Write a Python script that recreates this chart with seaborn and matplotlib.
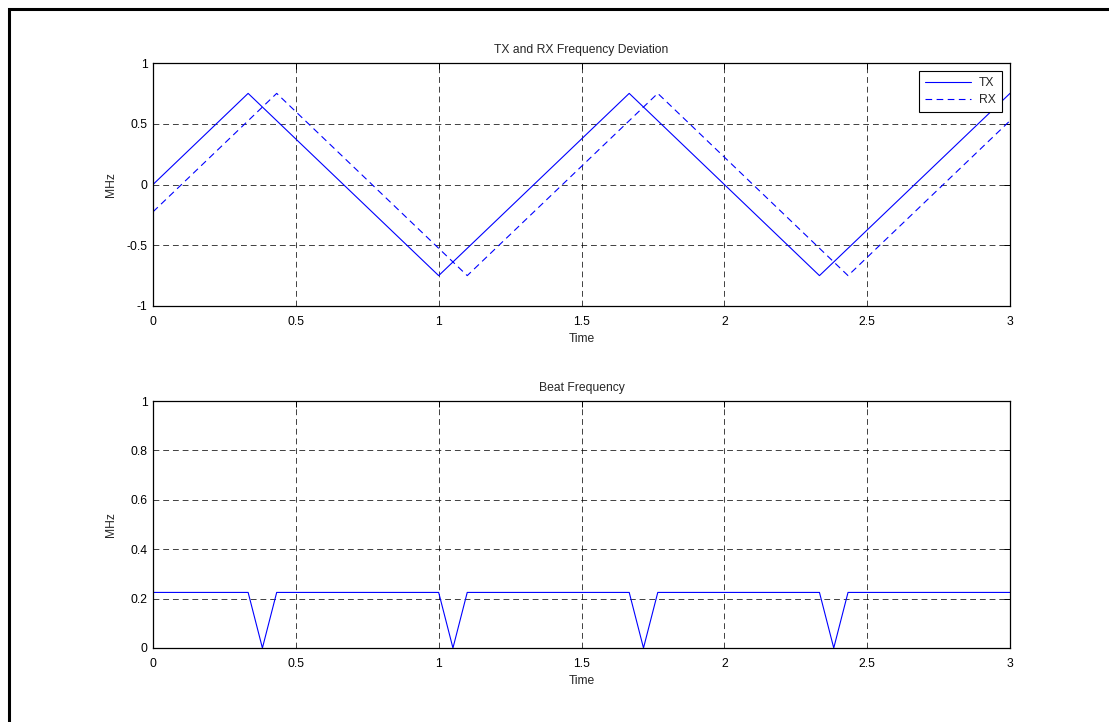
# %% TX / RX frequency deviation and beat frequency
import matplotlib
matplotlib.use('Agg')
import matplotlib.pyplot as plt
import seaborn as sns
import pandas as pd

# %% Data (vertices)
tx_time = [0, 0.333, 1.0, 1.667, 2.333, 3.0]
tx_mhz = [0, 0.75, -0.75, 0.75, -0.75, 0.75]

rx_time = [0, 0.433, 1.1, 1.767, 2.433, 3.0]
rx_mhz = [-0.225, 0.75, -0.75, 0.75, -0.75, 0.525]

beat_time = [0, 0.333, 0.383, 0.433, 1.0, 1.05, 1.1, 1.667, 1.717, 1.767,
             2.333, 2.383, 2.433, 3.0]
beat_mhz = [0.225, 0.225, 0, 0.225, 0.225, 0, 0.225, 0.225, 0, 0.225,
            0.225, 0, 0.225, 0.225]

top_yticks = [-1, -0.5, 0, 0.5, 1]
top_yticklabels = ['-1', '-0.5', '0', '0.5', '1']
bot_yticks = [0, 0.2, 0.4, 0.6, 0.8, 1]
bot_yticklabels = ['0', '0.2', '0.4', '0.6', '0.8', '1']
xticks = [0, 0.5, 1, 1.5, 2, 2.5, 3]
xticklabels = ['0', '0.5', '1', '1.5', '2', '2.5', '3']

# %% Style
sns.set_style('white')
plt.rcParams['font.family'] = ['Liberation Sans', 'DejaVu Sans']
fs = 8.7

W, H = 1109, 722
fig = plt.figure(figsize=(W / 100, H / 100), dpi=100)

# outer frame (runs off the right and bottom edges)
fig.patches.append(plt.Rectangle((9 / W, -0.05), 1.2, 1 - 9 / H + 0.05,
                                 transform=fig.transFigure, fill=False,
                                 edgecolor='black', linewidth=2.2))

ax1 = fig.add_axes([153 / W, 1 - 306 / H, 857 / W, 243 / H])
ax2 = fig.add_axes([153 / W, 1 - 648 / H, 857 / W, 247 / H])

tx = pd.DataFrame({'Time': tx_time, 'MHz': tx_mhz})
rx = pd.DataFrame({'Time': rx_time, 'MHz': rx_mhz})
beat = pd.DataFrame({'Time': beat_time, 'MHz': beat_mhz})

sns.lineplot(data=tx, x='Time', y='MHz', ax=ax1, color='#0000ff',
             linewidth=0.8, label='TX')
sns.lineplot(data=rx, x='Time', y='MHz', ax=ax1, color='#0000ff',
             linewidth=0.8, linestyle=(0, (6, 4)), label='RX')
sns.lineplot(data=beat, x='Time', y='MHz', ax=ax2, color='#0000ff',
             linewidth=0.8)

def matlab_axes(ax, yticks, yticklabels, title):
    ax.set_xlim(0, 3)
    ax.set_ylim(yticks[0], yticks[-1])
    ax.set_xticks(xticks)
    ax.set_xticklabels(xticklabels)
    ax.set_yticks(yticks)
    ax.set_yticklabels(yticklabels)
    ax.grid(True, color='black', linestyle=(0, (6, 4)), linewidth=0.7, alpha=0.75)
    ax.tick_params(direction='in', length=4, width=0.7, top=True, right=True,
                   labelsize=fs, colors='black')
    ax.tick_params(axis='x', pad=7)
    ax.tick_params(axis='y', pad=4)
    for s in ax.spines.values():
        s.set_color('black')
        s.set_linewidth(0.9)
    ax.set_xlabel('Time', fontsize=fs, labelpad=4)
    ax.set_ylabel('MHz', fontsize=fs)
    ax.yaxis.set_label_coords(-36 / 857, 0.5)
    ax.set_title(title, fontsize=fs, pad=7)

matlab_axes(ax1, top_yticks, top_yticklabels, 'TX and RX Frequency Deviation')
matlab_axes(ax2, bot_yticks, bot_yticklabels, 'Beat Frequency')

leg = ax1.legend(loc='upper right', fontsize=fs, frameon=True, fancybox=False,
                 borderaxespad=0.7, handlelength=3.8, borderpad=0.5,
                 labelspacing=0.4, handletextpad=0.6)
leg.get_frame().set_edgecolor('black')
leg.get_frame().set_linewidth(0.8)
leg.get_frame().set_alpha(1)

fig.savefig('out.png', dpi=100)
